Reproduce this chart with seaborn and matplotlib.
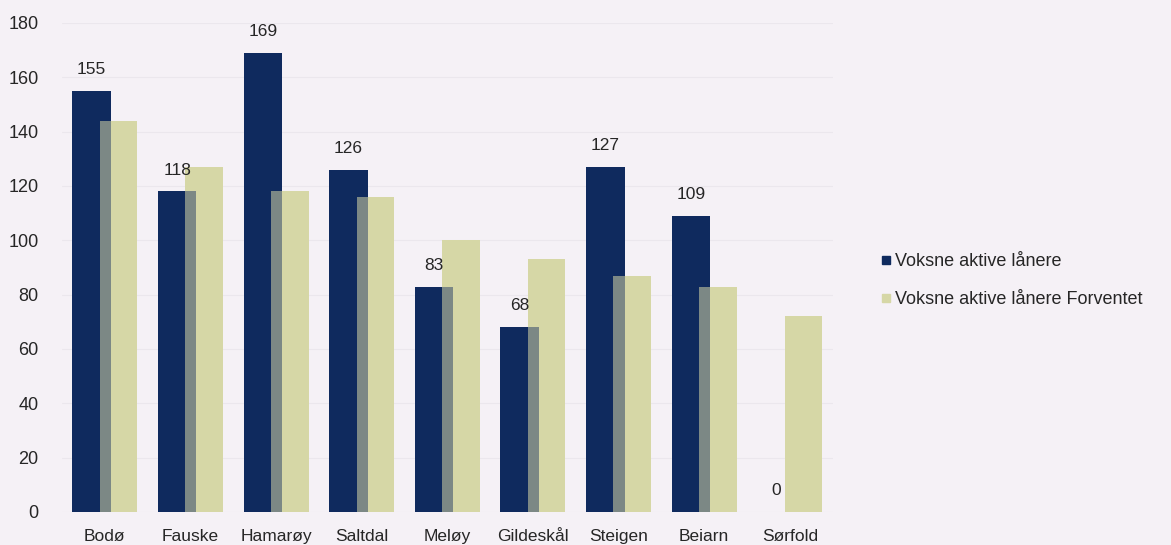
# Voksne aktive lånere per kommune, faktisk mot forventet
import matplotlib
matplotlib.use("Agg")
import matplotlib.pyplot as plt
from matplotlib.lines import Line2D
import pandas as pd
import seaborn as sns

# --- Data --------------------------------------------------------------------
kommuner = ["Bodø", "Fauske", "Hamarøy", "Saltdal", "Meløy",
            "Gildeskål", "Steigen", "Beiarn", "Sørfold"]
aktive = [155, 118, 169, 126, 83, 68, 127, 109, 0]
forventet = [144, 127, 118, 116, 100, 93, 87, 83, 72]

serie_navn = ["Voksne aktive lånere", "Voksne aktive lånere Forventet"]

df = pd.DataFrame({
    "kommune": kommuner * 2,
    "antall": aktive + forventet,
    "serie": [serie_navn[0]] * len(kommuner) + [serie_navn[1]] * len(kommuner),
})
df_forv = df[df["serie"] == serie_navn[1]]

# --- Style -------------------------------------------------------------------
BG = "#f5f1f6"
NAVY = "#0f2a5e"
PALE = "#d6d7a6"

sns.set_style("white")
plt.rcParams["font.family"] = ["Liberation Sans", "DejaVu Sans"]

fig = plt.figure(figsize=(11.71, 5.45), dpi=100, facecolor=BG)
ax = fig.add_axes([0.053, 0.0606, 0.658, 0.8972])
ax.set_facecolor(BG)

sns.barplot(data=df, x="kommune", y="antall", hue="serie",
            hue_order=serie_navn, palette=[NAVY, PALE], saturation=1,
            dodge=True, width=0.8, legend=False, ax=ax)
# semi-transparent copy of the expected bars, gives the greyish overlap
sns.barplot(data=df_forv, x="kommune", y="antall", color=PALE,
            saturation=1, alpha=0.55, width=0.4, ax=ax)


def place(container, offset, width, z):
    for i, bar in enumerate(container):
        bar.set_x(i + offset)
        bar.set_width(width)
        bar.set_zorder(z)
        bar.set_linewidth(0)


place(ax.containers[0], -0.38, 0.45, 2)
place(ax.containers[1], -0.06, 0.44, 1)
place(ax.containers[2], -0.06, 0.44, 3)

ax.bar_label(ax.containers[0], labels=[str(v) for v in aktive],
             padding=10, fontsize=12.5, zorder=4)

# --- Axes --------------------------------------------------------------------
ax.set_xlim(-0.5, len(kommuner) - 0.5)
ax.set_ylim(0, 180)
ax.set_yticks(range(0, 181, 20))
ax.yaxis.grid(True, color="#ebe7ed", linewidth=0.8)
ax.set_axisbelow(True)
for s in ax.spines.values():
    s.set_visible(False)
ax.tick_params(axis="y", length=0, pad=17, labelsize=13)
ax.tick_params(axis="x", length=0, pad=12, labelsize=12.5)
ax.set_xlabel("")
ax.set_ylabel("")

# --- Legend ------------------------------------------------------------------
handles = [Line2D([], [], marker="s", linestyle="", markersize=6,
                  markerfacecolor=c, markeredgecolor=c) for c in (NAVY, PALE)]
fig.legend(handles, serie_navn, loc="upper left",
           bbox_to_anchor=(0.735, 0.565), frameon=False, fontsize=13,
           handletextpad=0.0, handlelength=1.0, labelspacing=1.15)

fig.savefig("out.png", dpi=100, facecolor=BG)
plt.close(fig)
